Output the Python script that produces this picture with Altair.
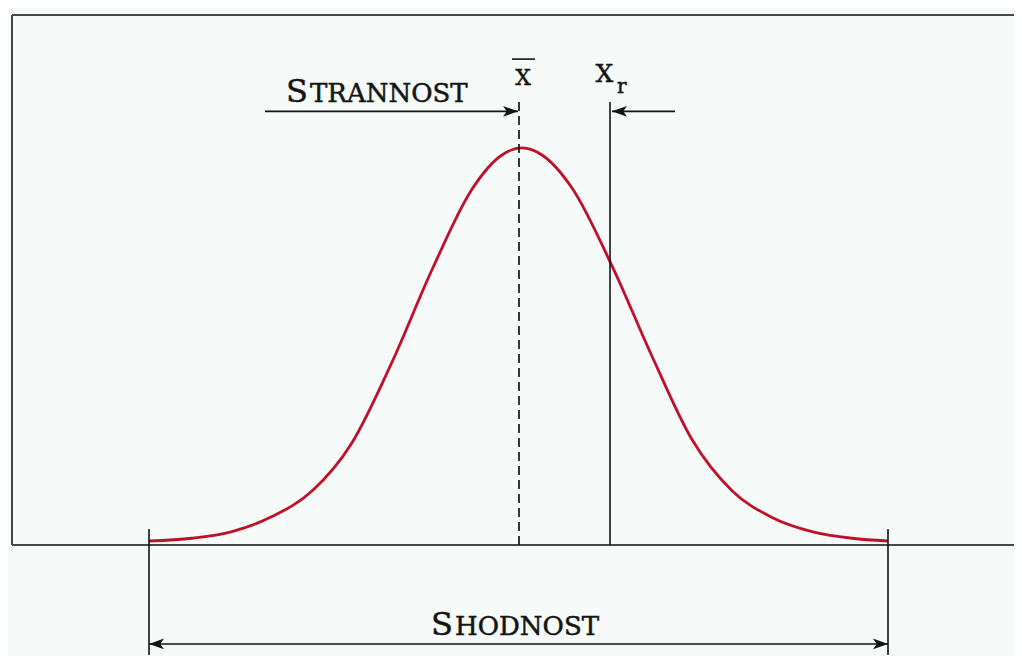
import altair as alt
import pandas as pd

# ---- curve: position in sigma units, relative density (peak = 1)
curve_u = [-3.73, -3.3, -2.9, -2.5, -2.1, -1.7, -1.3, -0.9, -0.5, -0.2, 0.0,
           0.2, 0.5, 0.9, 1.3, 1.7, 2.1, 2.5, 2.9, 3.3, 3.66]
curve_d = [0.000, 0.007, 0.024, 0.062, 0.127, 0.250, 0.455, 0.690, 0.895, 0.982, 1.000,
           0.982, 0.898, 0.700, 0.470, 0.258, 0.128, 0.060, 0.024, 0.007, 0.000]

# ---- key positions
mean_u = -0.03          # X-bar (mean)
xr_u = 0.88             # X_r (reference value)
left_u, right_u = -3.73, 3.66   # spread limits (SHODNOST)
x_domain = [-5.14, 4.92]
y_domain = [-0.2926, 1.356]

# frame
frame_left_u = -5.10
frame_top_d = 1.338
frame_bottom_d = -0.0102

# annotation levels
marker_top_d = 1.117
bias_arrow_d = 1.093
bias_arrow_start = -2.57
bias_arrow_end_right = 1.53
limit_top_d = 0.0305
limit_bottom_d = -0.29
spread_arrow_d = -0.262

labels_big = ["S", "S"]
labels_small = ["TRANNOST", "HODNOST"]
labels_split_u = [-2.13, -0.68]
labels_base_d = [1.118, -0.239]

xbar_label = "X"
xbar_bar = [-0.10, 0.13, 1.226]
xr_label_main = "X"
xr_label_sub = "r"

BG = "#f6faf8"
INK = "#141414"

X = lambda f="u": alt.X(f"{f}:Q", scale=alt.Scale(domain=x_domain, nice=False, zero=False), axis=None)
Y = lambda f="d": alt.Y(f"{f}:Q", scale=alt.Scale(domain=y_domain, nice=False, zero=False), axis=None)

# frame (left, top, bottom)
frame = pd.DataFrame({
    "u": [frame_left_u, frame_left_u, frame_left_u],
    "u2": [frame_left_u, x_domain[1], x_domain[1]],
    "d": [frame_bottom_d, frame_top_d, frame_bottom_d],
    "d2": [frame_top_d, frame_top_d, frame_bottom_d],
})
frame_layer = alt.Chart(frame).mark_rule(color="#474747", strokeWidth=2).encode(
    x=X(), x2="u2:Q", y=Y(), y2="d2:Q")

# solid thin lines
solid = pd.DataFrame({
    "u": [xr_u, left_u, right_u, bias_arrow_start, bias_arrow_end_right, left_u, xbar_bar[0]],
    "u2": [xr_u, left_u, right_u, mean_u - 0.01, xr_u + 0.02, right_u, xbar_bar[1]],
    "d": [frame_bottom_d, limit_top_d, limit_top_d, bias_arrow_d, bias_arrow_d, spread_arrow_d, xbar_bar[2]],
    "d2": [marker_top_d, limit_bottom_d, limit_bottom_d, bias_arrow_d, bias_arrow_d, spread_arrow_d, xbar_bar[2]],
})
solid_layer = alt.Chart(solid).mark_rule(color=INK, strokeWidth=1.6).encode(
    x=X(), x2="u2:Q", y=Y(), y2="d2:Q")

dashed = pd.DataFrame({"u": [mean_u], "d": [frame_bottom_d], "d2": [marker_top_d]})
dashed_layer = alt.Chart(dashed).mark_rule(color=INK, strokeWidth=1.7, strokeDash=[9, 5]).encode(
    x=X(), y=Y(), y2="d2:Q")

curve = pd.DataFrame({"u": curve_u, "d": curve_d})
curve_layer = alt.Chart(curve).mark_line(color="#bf1029", strokeWidth=2.8, interpolate="monotone").encode(
    x=X(), y=Y())

# arrowheads
heads = pd.DataFrame({
    "u": [mean_u - 0.01, xr_u + 0.02, left_u, right_u],
    "d": [bias_arrow_d, bias_arrow_d, spread_arrow_d, spread_arrow_d],
    "ang": [0, 180, 180, 0],
})
head_layer = alt.Chart(heads).mark_point(
    shape="M 0 0 L -1 -0.36 L -0.75 0 L -1 0.36 Z", size=900, filled=True,
    color=INK, opacity=1, strokeWidth=0).encode(
    x=X(), y=Y(), angle=alt.Angle("ang:Q", scale=None))

TXT = dict(font="DejaVu Serif", baseline="alphabetic", color=INK, stroke=INK, strokeWidth=0.5)

# small-caps labels
big = pd.DataFrame({"u": labels_split_u, "d": labels_base_d, "t": labels_big})
big_layer = alt.Chart(big).mark_text(fontSize=32, align="right", dx=-1, **TXT).encode(
    x=X(), y=Y(), text="t:N")
small = pd.DataFrame({"u": labels_split_u, "d": labels_base_d, "t": labels_small})
small_layer = alt.Chart(small).mark_text(fontSize=26, align="left", dx=1, **TXT).encode(
    x=X(), y=Y(), text="t:N")

xbar = pd.DataFrame({"u": [0.01], "d": [1.160], "t": [xbar_label]})
xbar_layer = alt.Chart(xbar).mark_text(fontSize=22, align="center", **TXT).encode(
    x=X(), y=Y(), text="t:N")

xr_main = pd.DataFrame({"u": [0.825], "d": [1.169], "t": [xr_label_main]})
xr_main_layer = alt.Chart(xr_main).mark_text(fontSize=25, align="center", **TXT).encode(
    x=X(), y=Y(), text="t:N")
xr_sub = pd.DataFrame({"u": [0.95], "d": [1.139], "t": [xr_label_sub]})
xr_sub_layer = alt.Chart(xr_sub).mark_text(fontSize=20, align="left", **TXT).encode(
    x=X(), y=Y(), text="t:N")

chart = alt.layer(
    frame_layer, curve_layer, dashed_layer, solid_layer, head_layer,
    big_layer, small_layer, xbar_layer, xr_main_layer, xr_sub_layer
).properties(
    width=1006, height=648, padding=0, autosize="none", background=BG
).configure_view(strokeWidth=0)

chart.save("out.html", embed_options={"renderer": "svg", "actions": False})
